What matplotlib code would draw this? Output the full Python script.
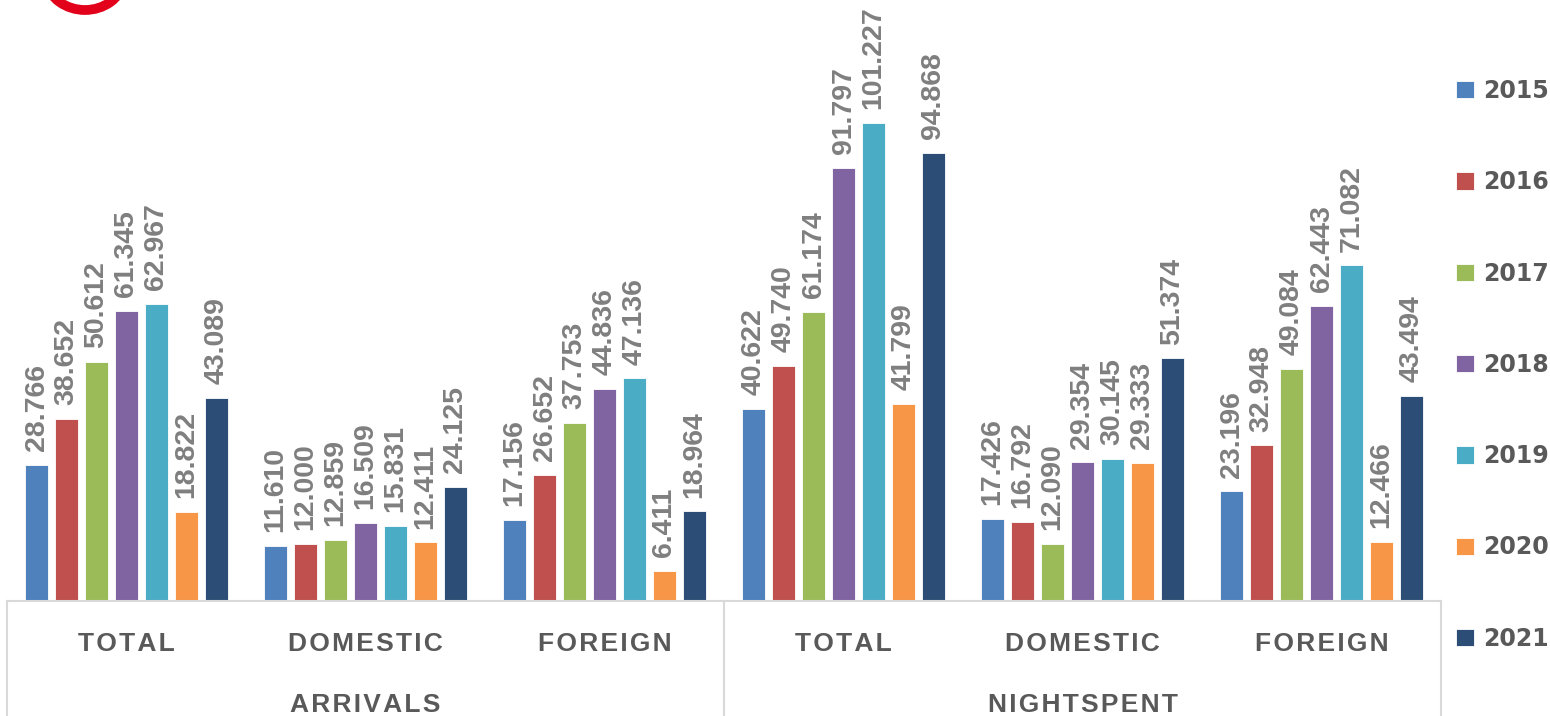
import numpy as np
import matplotlib
matplotlib.use("Agg")
import matplotlib.pyplot as plt
from matplotlib.patches import Arc
from matplotlib.lines import Line2D

# data
categories = ["TOTAL", "DOMESTIC", "FOREIGN", "TOTAL", "DOMESTIC", "FOREIGN"]
groups = ["ARRIVALS", "NIGHTSPENT"]
years = ["2015", "2016", "2017", "2018", "2019", "2020", "2021"]
v2015 = [28.766, 11.610, 17.156, 40.622, 17.426, 23.196]
v2016 = [38.652, 12.000, 26.652, 49.740, 16.792, 32.948]
v2017 = [50.612, 12.859, 37.753, 61.174, 12.090, 49.084]
v2018 = [61.345, 16.509, 44.836, 91.797, 29.354, 62.443]
v2019 = [62.967, 15.831, 47.136, 101.227, 30.145, 71.082]
v2020 = [18.822, 12.411, 6.411, 41.799, 29.333, 12.466]
v2021 = [43.089, 24.125, 18.964, 94.868, 51.374, 43.494]
series = [v2015, v2016, v2017, v2018, v2019, v2020, v2021]
colors = ["#4F81BD", "#C0504D", "#9BBB59", "#8064A2", "#4BACC6", "#F79646", "#2C4D75"]

FAM = ["Liberation Sans", "DejaVu Sans"]


def spaced(s):
    # small letter spacing like the original category axis
    return "\u200a".join(s)


W, H = 1550, 716
fig = plt.figure(figsize=(W / 100, H / 100), dpi=100)
ax = fig.add_axes([7 / W, 115 / H, 1434 / W, 601 / H])

x = np.arange(len(categories))
pitch = 0.1255
bw = 0.1
for i, (vals, c) in enumerate(zip(series, colors)):
    pos = x + (i - 3) * pitch
    bars = ax.bar(pos, vals, width=bw, color=c, edgecolor="white", linewidth=0.6, label=years[i])
    for b, v in zip(bars, vals):
        ax.annotate(f"{v:.3f}", (b.get_x() + b.get_width() / 2, v),
                    xytext=(0, 10), textcoords="offset points",
                    rotation=90, ha="center", va="bottom",
                    fontsize=20.5, fontweight="bold", color="#7F7F7F",
                    family="Liberation Sans")

ax.set_xlim(-0.5, 5.5)
ax.set_ylim(0, 127.3)
ax.set_yticks([])
for s in ["top", "left", "right"]:
    ax.spines[s].set_visible(False)
ax.spines["bottom"].set_color("#D9D9D9")
ax.spines["bottom"].set_linewidth(1.5)

ax.set_xticks(x)
ax.set_xticklabels([spaced(c) for c in categories], fontsize=19, fontweight="bold",
                   color="#595959", family=FAM)
ax.tick_params(axis="x", length=0, pad=22)

# second level category axis
trans = ax.get_xaxis_transform()
for xv in [-0.5, 2.5, 5.5]:
    ax.add_line(Line2D([xv, xv], [0, -0.2], transform=trans, color="#D9D9D9",
                       linewidth=1.5, clip_on=False))
for gi, g in enumerate(groups):
    ax.text(gi * 3 + 1, -104 / 601, spaced(g), transform=trans, ha="center", va="center",
            fontsize=19, fontweight="bold", color="#595959", family=FAM)

leg = fig.legend(loc="upper left", bbox_to_anchor=(1456 / W, 1 - 79 / H),
                 frameon=False, borderpad=0, borderaxespad=0,
                 handlelength=0.75, handleheight=0.75,
                 handletextpad=0.4, labelspacing=2.85,
                 prop={"family": "DejaVu Sans", "weight": "bold", "size": 17})
for t in leg.get_texts():
    t.set_color("#595959")

# logo remnant top-left
fig.patches.append(Arc((85 / W, 1 + 25 / H), 80 / W, 70 / H, theta1=200, theta2=340,
                       transform=fig.transFigure, color="#E2001A", linewidth=7))

fig.savefig("out.png", dpi=100)
